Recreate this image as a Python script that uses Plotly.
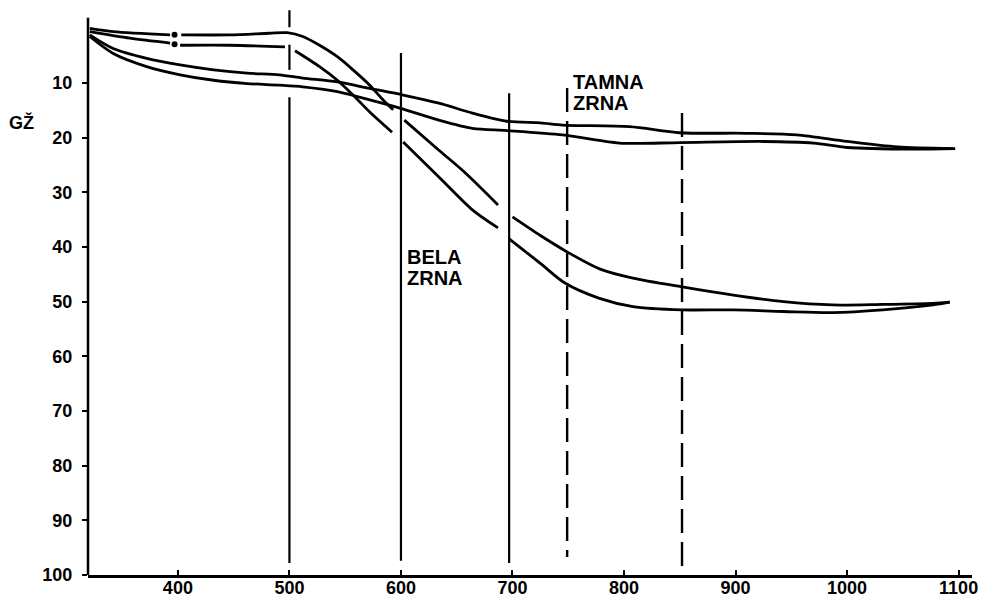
import plotly.graph_objects as go

# ---- data ----
# curve A (upper dark-grain curve, ends near 50)
a_x = [321, 342, 393, None, 403, 447, 482, 498, 512, 527, 543, 557, 572, 584, 593, None,
       603, 634, 658, 687, None, 700, 725, 749, 778, 808, 852, 898, 943, 987, 1032, 1077, 1092]
a_y = [0.0, 0.6, 1.2, None, 1.2, 1.2, 0.9, 0.8, 1.5, 3.1, 5.2, 7.6, 10.4, 13.1, 14.9, None,
       16.8, 22.3, 26.5, 32.3, None, 34.5, 37.9, 40.9, 44.0, 45.7, 47.3, 48.8, 50.0, 50.6, 50.5, 50.3, 50.1]

# curve B (lower dark-grain curve, ends near 50)
b_x = [321, 357, 393, None, 402, 447, 496, None, 505, 527, 543, 557, 572, 592, None,
       602, 634, 664, 687, None, 697, 725, 747, 778, 808, 852, 898, 943, 987, 1032, 1077, 1092]
b_y = [0.6, 1.8, 2.7, None, 3.1, 3.1, 3.4, None, 4.1, 7.0, 9.5, 12.2, 15.3, 19.0, None,
       20.8, 27.2, 33.2, 36.5, None, 38.5, 43.0, 46.6, 49.4, 50.9, 51.5, 51.5, 51.8, 52.0, 51.5, 50.6, 50.1]

# curve C (upper light-grain curve, ends near 22)
c_x = [321, 342, 372, 402, 432, 462, 491, 512, 543, 572, 602, 634, 664, 695, 725, 745,
       805, 850, 910, 955, 1000, 1045, 1095]
c_y = [1.2, 3.7, 5.5, 6.7, 7.6, 8.2, 8.5, 9.1, 9.8, 11.0, 12.2, 13.7, 15.5, 17.0, 17.3, 17.7,
       18.0, 19.1, 19.2, 19.5, 20.7, 21.7, 22.0]

# curve D (lower light-grain curve, ends near 22)
d_x = [321, 342, 372, 402, 432, 462, 491, 512, 543, 572, 599, 634, 664, 695, 745, 796,
       850, 925, 970, 1000, 1059, 1097]
d_y = [1.5, 4.6, 7.0, 8.5, 9.5, 10.1, 10.4, 10.7, 11.6, 13.1, 14.6, 16.8, 18.3, 18.7, 19.5, 21.0,
       20.9, 20.7, 21.0, 21.8, 22.1, 22.0]

# break dots on curves A and B near 400
dot_x = [397, 397]
dot_y = [1.2, 2.9]

# vertical marker lines
solid_vx = [600, 697]
solid_top = [4.5, 11.9]
solid_bot = [97.4, 97.8]
dashed_vx = [749, 852]
dashed_top = [10.9, 15.5]
dashed_bot = [96.7, 100.0]
# line at 500: broken where the curves cross it
seg500_x = 500
seg500_y = [(-3.3, -0.2), (3.0, 7.6), (12.6, 97.8)]

x_ticks = [400, 500, 600, 700, 800, 900, 1000, 1100]
y_ticks = [10, 20, 30, 40, 50, 60, 70, 80, 90, 100]

# ---- figure ----
fig = go.Figure()
curve_style = dict(color="black", width=2.8, shape="spline", smoothing=0.8)
for xs, ys in [(a_x, a_y), (b_x, b_y), (c_x, c_y), (d_x, d_y)]:
    fig.add_trace(go.Scatter(x=xs, y=ys, mode="lines", line=curve_style,
                             connectgaps=False, showlegend=False, hoverinfo="skip"))

fig.add_trace(go.Scatter(x=dot_x, y=dot_y, mode="markers",
                         marker=dict(color="black", size=6), showlegend=False, hoverinfo="skip"))

for vx, t, b in zip(solid_vx, solid_top, solid_bot):
    fig.add_trace(go.Scatter(x=[vx, vx], y=[t, b], mode="lines",
                             line=dict(color="black", width=2.2), showlegend=False, hoverinfo="skip"))
for vx, t, b in zip(dashed_vx, dashed_top, dashed_bot):
    fig.add_trace(go.Scatter(x=[vx, vx], y=[t, b], mode="lines",
                             line=dict(color="black", width=2.4, dash="24px,9px"),
                             showlegend=False, hoverinfo="skip"))
sx, sy = [], []
for t, b in seg500_y:
    sx += [seg500_x, seg500_x, None]
    sy += [t, b, None]
fig.add_trace(go.Scatter(x=sx, y=sy, mode="lines", connectgaps=False,
                         line=dict(color="black", width=2.2), showlegend=False, hoverinfo="skip"))

# y axis line drawn separately (starts slightly below the top of plot area)
fig.add_shape(type="line", xref="paper", yref="y", x0=0, x1=0, y0=-1.95, y1=100,
              line=dict(color="black", width=2.5))

lab_font = dict(family="Liberation Sans", size=20, color="black", weight="bold")
fig.add_annotation(x=603.6, y=41.8, text="BELA", showarrow=False, xanchor="left",
                   yanchor="middle", font=lab_font)
fig.add_annotation(x=603.6, y=45.6, text="ZRNA", showarrow=False, xanchor="left",
                   yanchor="middle", font=lab_font)
fig.add_annotation(x=752.5, y=9.8, text="TAMNA", showarrow=False, xanchor="left",
                   yanchor="middle", font=lab_font)
fig.add_annotation(x=752.5, y=13.75, text="ZRNA", showarrow=False, xanchor="left",
                   yanchor="middle", font=lab_font)
fig.add_annotation(xref="paper", x=-0.0747, y=17.2, text="GŽ", showarrow=False,
                   xanchor="center", yanchor="middle",
                   font=dict(family="Liberation Sans", size=18, color="black", weight="bold"))

# page body has an 8px margin: shrink figure and margins so the plot area lands
# where it is in the reference
fig.update_layout(
    width=983, height=593,
    margin=dict(l=80, r=19, t=2, b=26, autoexpand=False),
    paper_bgcolor="white", plot_bgcolor="white",
    xaxis=dict(range=[319.4, 1112], tickvals=x_ticks, ticktext=[str(v) for v in x_ticks],
               automargin=False,
               showgrid=False, zeroline=False, showline=True, linecolor="black", linewidth=2.5,
               ticks="inside", ticklen=5, tickwidth=2, tickcolor="black",
               ticklabelstandoff=-5,
               tickfont=dict(family="Liberation Sans", size=18, color="black", weight="bold")),
    yaxis=dict(range=[100, -3.35], tickvals=y_ticks, ticktext=[str(v) for v in y_ticks],
               automargin=False,
               showgrid=False, zeroline=False, showline=False,
               ticks="outside", ticklen=5, tickwidth=2, tickcolor="black",
               ticklabelstandoff=6,
               tickfont=dict(family="Liberation Sans", size=18, color="black", weight="bold")),
)

fig.write_html("out.html")
